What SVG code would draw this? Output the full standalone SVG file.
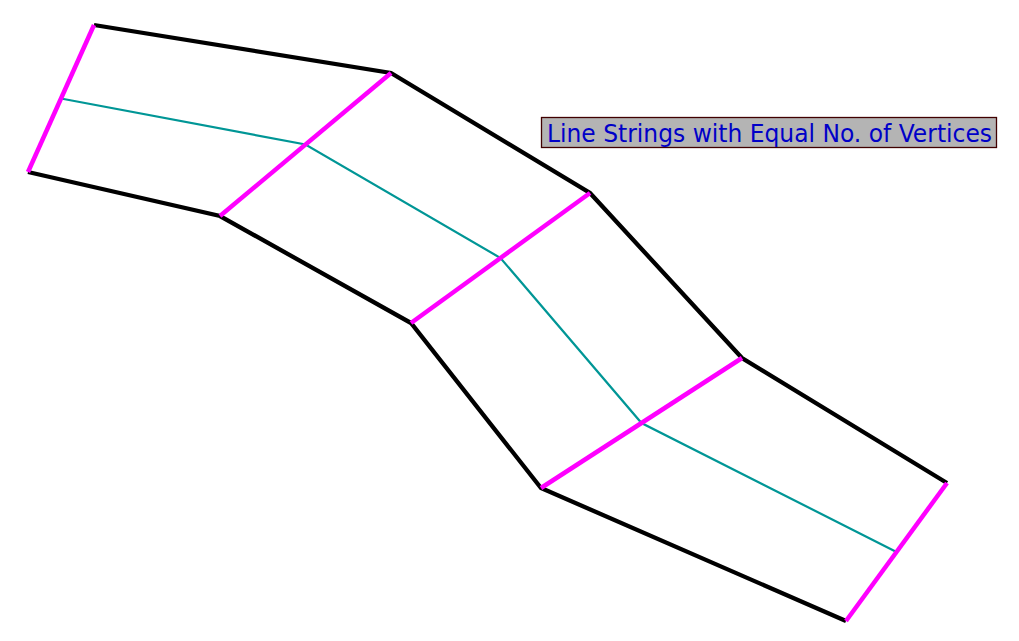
<svg xmlns="http://www.w3.org/2000/svg" width="1019" height="641" viewBox="0 0 1019 641">
<style>
.edge{fill:none;stroke:#000;stroke-width:4.3;stroke-linejoin:miter}
.cross{stroke:#ff00ff;stroke-width:4.5;stroke-linecap:butt}
.center{fill:none;stroke:#009696;stroke-width:2.2}
.lbl{font-family:"DejaVu Sans",Verdana,sans-serif;font-size:24px;fill:#0000c8}
</style>
<rect width="1019" height="641" fill="#fff"/>
<g id="connectors">
<polyline class="edge" points="94,25 391,73 590,193 742,358 947,483"/>
<polyline class="edge" points="28,172 220,216 411,323 541,488 846,621"/>
<polyline class="center" points="61,98.5 305.5,144.5 500.5,258 641.5,423 896.5,552"/>
<line class="cross" x1="94" y1="25" x2="28" y2="172"/>
<line class="cross" x1="391" y1="73" x2="220" y2="216"/>
<line class="cross" x1="590" y1="193" x2="411" y2="323"/>
<line class="cross" x1="742" y1="358" x2="541" y2="488"/>
<line class="cross" x1="947" y1="483" x2="846" y2="621"/>
</g>
<g id="label">
<rect x="541.5" y="117.5" width="455" height="30" fill="#b4b4b4" stroke="#400000" stroke-width="1.3"/>
<text class="lbl" x="547" y="141.5" textLength="445" lengthAdjust="spacingAndGlyphs">Line Strings with Equal No. of Vertices</text>
</g>
</svg>
